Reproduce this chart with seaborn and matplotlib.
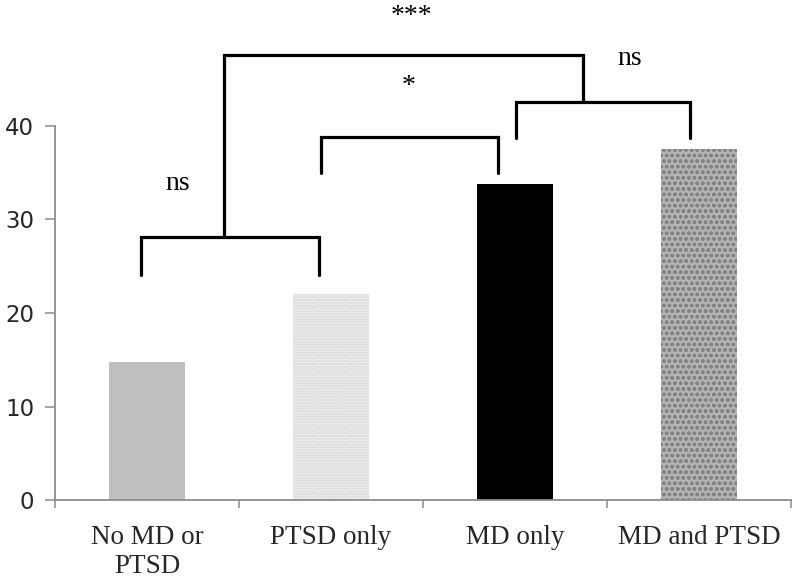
"""Bar chart of four diagnostic groups with significance brackets."""
from matplotlib import pyplot as plt
import seaborn as sns

# Data
categories = ["No MD or\nPTSD", "PTSD only", "MD only", "MD and PTSD"]
values = [14.8, 22.0, 33.8, 37.5]
y_ticks = [0, 10, 20, 30, 40]

# Significance brackets: (x_left, x_right, y_top, y_left_end, y_right_end)
brackets = [
    (-0.03, 0.935, 28.1, 24.1, 24.1),
    (0.946, 1.91, 38.8, 35.0, 35.0),
    (2.005, 2.95, 42.6, 38.7, 38.7),
    (0.42, 2.37, 47.6, 28.1, 42.6),
]
# Significance labels: (x, y, text)
sig_labels = [
    (0.17, 33.8, "ns"),
    (1.42, 44.2, "*"),
    (1.44, 51.7, "***"),
    (2.625, 47.2, "ns"),
]

SERIF = "Liberation Serif"
AXIS_GREY = "#8c8c8c"

sns.set_theme(style="white")
plt.rcParams["font.family"] = ["DejaVu Sans"]

fig = plt.figure(figsize=(7.96, 5.79), dpi=100)
ax = fig.add_axes([0.069, 0.1364, 0.9246, 0.646])

bar_colors = ["#bfbfbf", "#ededed", "#000000", "#b4b4b4"]
sns.barplot(
    x=categories, y=values, hue=categories, palette=bar_colors,
    width=0.41, legend=False, ax=ax, saturation=1,
)

# texture-like fills for the speckled bars
textures = {1: ("......", "#d4d4d4"), 3: ("ooo", "#838383")}
for i, patch in enumerate(ax.patches):
    patch.set_linewidth(0)
    if i in textures:
        hatch, hcolor = textures[i]
        patch.set_hatch(hatch)
        patch.set_edgecolor(hcolor)

ax.set_xlim(-0.5, 3.5)
ax.set_ylim(0, 40)
ax.set_yticks(y_ticks)
ax.set_ylabel("")
ax.set_xlabel("")

for side in ["top", "right"]:
    ax.spines[side].set_visible(False)
for side in ["left", "bottom"]:
    ax.spines[side].set_color(AXIS_GREY)
    ax.spines[side].set_linewidth(1.3)

ax.tick_params(axis="y", direction="out", length=7, width=1.1,
               color=AXIS_GREY, pad=8, labelsize=16.5, left=True)
ax.tick_params(axis="x", which="major", length=0, pad=18)
ax.set_xticks([-0.5, 0.5, 1.5, 2.5, 3.5], minor=True)
ax.tick_params(axis="x", which="minor", direction="out", length=6,
               width=1.1, color=AXIS_GREY, bottom=True)
for lbl in ax.get_xticklabels():
    lbl.set_fontfamily(SERIF)
    lbl.set_fontsize(19.5)
    lbl.set_linespacing(1.2)

for x0, x1, top, yl, yr in brackets:
    ax.plot([x0, x0, x1, x1], [yl, top, top, yr], color="black",
            linewidth=2.3, clip_on=False, solid_joinstyle="miter")

for x, y, text in sig_labels:
    ax.text(x, y, text, ha="center", va="center", fontsize=20,
            family=SERIF, color="black", clip_on=False)

fig.savefig("out.png", dpi=100)
